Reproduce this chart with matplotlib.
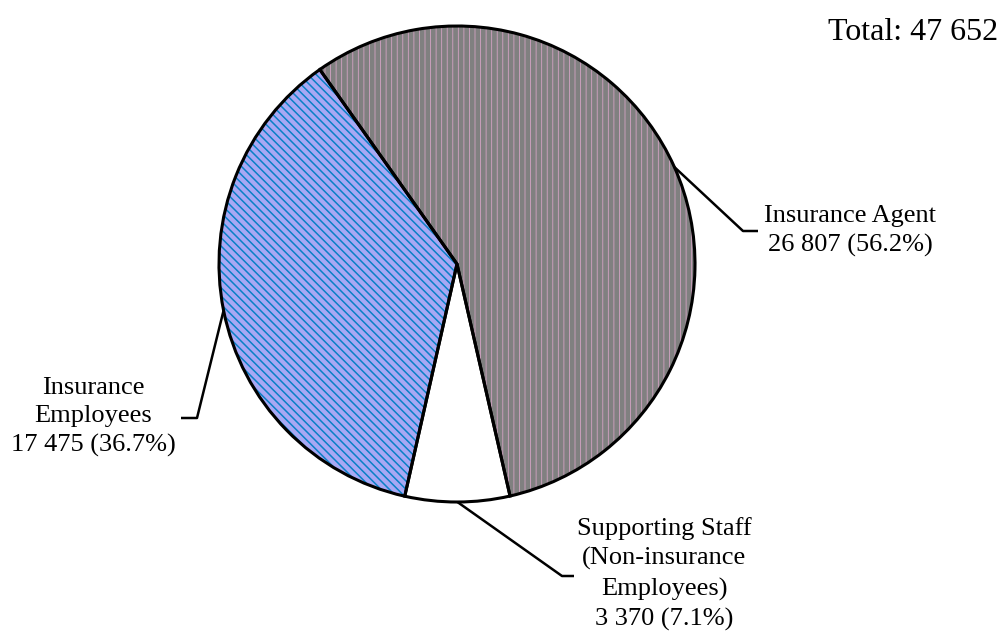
import numpy as np
import matplotlib
matplotlib.use("Agg")
import matplotlib.pyplot as plt
from matplotlib.patches import Wedge

# Staff composition
categories = ["Insurance Agent", "Supporting Staff\n(Non-insurance\nEmployees)", "Insurance\nEmployees"]
counts = [26807, 3370, 17475]
shares = [56.2, 7.1, 36.7]
total = sum(counts)

W, H = 1006, 639
fig = plt.figure(figsize=(W / 100, H / 100), dpi=100)
ax = fig.add_axes([0, 0, 1, 1])

cx, cy, r = 457, H - 264, 238
start = 125.2

face_colors = ["#808080", "#ffffff", "#a8a8f4"]
hatch_colors = ["#d4a3c4", "#ffffff", "#0a80c6"]
hatches = ["|||", "", "\\\\\\\\"]
hatch_lw = [0.6, 0.6, 1.1]

wedges, _ = ax.pie(shares, startangle=start, counterclock=False,
                   center=(cx, cy), radius=r)
for w, fc, hc, hp, hl in zip(wedges, face_colors, hatch_colors, hatches, hatch_lw):
    w.set_facecolor(fc)
    # the hatch is drawn in the edge colour; the outline comes from a separate patch
    w.set_edgecolor(hc)
    w.set_linewidth(0)
    w.set_hatch(hp)
    w.set_hatch_linewidth(hl)

for w in wedges:
    ax.add_patch(Wedge(w.center, w.r, w.theta1, w.theta2,
                       facecolor="none", edgecolor="black",
                       linewidth=2.2, zorder=3))

ax.set_xlim(0, W)
ax.set_ylim(0, H)
ax.set_aspect("equal")
ax.axis("off")

serif = ["Liberation Serif", "DejaVu Serif"]

def fmt(n):
    return f"{n:,}".replace(",", " ")

# Leader elbows and label anchors (pixel positions from the top-left)
elbows = [((743, 231), (758, 231)), ((562, 576), (574, 576)), ((197, 418), (181, 418))]
anchors = [(850, 231), (664, 574), (93, 417)]

for w, cat, n, pct, (e1, e2), (tx, ty) in zip(wedges, categories, counts, shares, elbows, anchors):
    mid = np.deg2rad((w.theta1 + w.theta2) / 2)
    p0 = (cx + r * np.cos(mid), cy + r * np.sin(mid))
    xs = [p0[0], e1[0], e2[0]]
    ys = [p0[1], H - e1[1], H - e2[1]]
    ax.plot(xs, ys, color="black", lw=1.8, solid_capstyle="butt", zorder=4)
    ax.text(tx, H - ty, f"{cat}\n{fmt(n)} ({pct:.1f}%)",
            ha="center", va="center", multialignment="center",
            linespacing=1.4, family=serif, size=19)

ax.text(998, H - 32, f"Total: {fmt(total)}", ha="right", va="center",
        family=serif, size=23)

fig.savefig("out.png", dpi=100)
